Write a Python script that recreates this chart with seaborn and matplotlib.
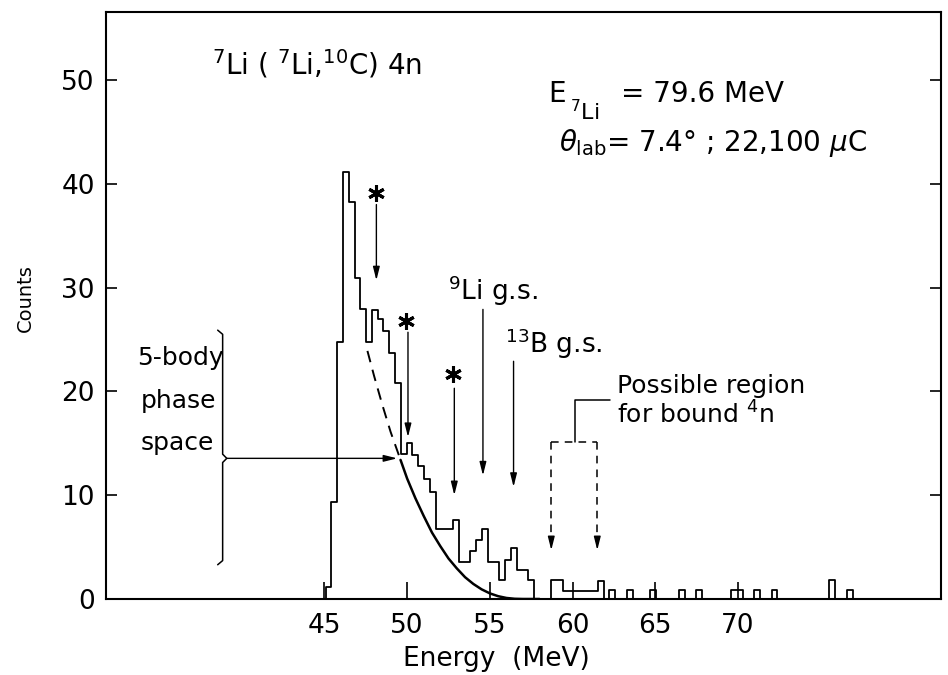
import numpy as np
import matplotlib
matplotlib.use("Agg")
import matplotlib.pyplot as plt
import seaborn as sns

# 7Li(7Li,10C) spectrum, channels of 0.35 MeV starting at 44.72 MeV
bin_start = 44.72
bin_width = 0.35
counts = [0.0, 1.2, 9.3, 24.8, 41.1, 38.2, 30.9, 27.9, 24.8, 27.8, 27.0,
          25.8, 23.7, 20.8, 14.0, 15.0, 13.9, 12.8, 11.6, 10.3, 6.7,
          6.7, 6.7, 7.6, 3.6, 3.6, 4.6, 5.7, 6.7, 3.6, 3.6,
          1.8, 3.8, 4.9, 2.8, 2.8, 1.8, 0.0, 0.0, 0.0, 1.8,
          1.8, 0.8, 0.8, 0.8, 0.8, 0.8, 0.8, 1.7, 0.0, 0.9,
          0.0, 0.0, 0.9, 0.0, 0.0, 0.0, 0.9, 0.0, 0.0, 0.0,
          0.0, 0.9, 0.0, 0.0, 0.9, 0.0, 0.0, 0.0, 0.0, 0.0,
          0.9, 0.9, 0.0, 0.0, 0.9, 0.0, 0.0, 0.9, 0.0, 0.0,
          0.0, 0.0, 0.0, 0.0, 0.0, 0.0, 0.0, 1.8, 0.0, 0.0,
          0.9, 0.0]

# 5-body phase space curve (dashed part, solid part)
ps_dash_energy = [47.6, 48.0, 48.5, 49.0, 49.6]
ps_dash_counts = [23.9, 21.5, 18.7, 16.1, 13.4]
ps_energy = [49.6, 50.0, 50.5, 51.0, 51.5, 52.0, 52.5, 53.0, 53.5, 54.0,
             54.5, 55.0, 55.5, 56.0, 56.5, 57.0, 58.0]
ps_counts = [13.4, 11.6, 9.7, 8.0, 6.4, 5.1, 3.9, 2.95, 2.1, 1.45,
             0.93, 0.54, 0.27, 0.1, 0.02, 0.0, 0.0]

x_ticks = [45, 50, 55, 60, 65, 70]
y_ticks = [0, 10, 20, 30, 40, 50]

sns.set_style("ticks")
plt.rcParams['font.family'] = ['DejaVu Sans']
plt.rcParams['mathtext.fontset'] = 'dejavusans'
for key in ['text.color', 'axes.labelcolor', 'xtick.color', 'ytick.color']:
    plt.rcParams[key] = 'black'

fig = plt.figure(figsize=(9.48, 6.75), dpi=100)
ax = fig.add_axes([0.1118, 0.1126, 0.8808, 0.8696])

edges = bin_start + bin_width * np.arange(len(counts) + 1)
step_counts = counts + [counts[-1]]
sns.lineplot(x=edges, y=step_counts, drawstyle="steps-post", estimator=None,
             color="black", linewidth=1.3, ax=ax)

sns.lineplot(x=ps_energy, y=ps_counts, color="black", linewidth=1.8, ax=ax)
sns.lineplot(x=ps_dash_energy, y=ps_dash_counts, color="black", linewidth=1.4,
             linestyle=(0, (6, 4)), ax=ax)

ax.set_xlim(31.8, 82.26)
ax.set_ylim(0, 56.55)
ax.set_xticks(x_ticks)
ax.set_yticks(y_ticks)
ax.tick_params(axis="x", direction="in", length=12, width=1.2, labelsize=19, pad=10)
ax.tick_params(axis="y", direction="in", length=8, width=1.2, labelsize=19, pad=8,
               right=True)
for s in ax.spines.values():
    s.set_linewidth(1.5)
    s.set_color("black")

ax.set_xlabel("Energy  (MeV)", fontsize=19)
ax.set_ylabel("Counts", fontsize=14)
ax.xaxis.set_label_coords(0.468, -0.08)
ax.yaxis.set_label_coords(-0.085, 0.513)


def down_arrow(x, y0, y1, dashed=False):
    if dashed:
        ax.plot([x, x], [y0, y1 + 1.2], color="black", lw=1.1, linestyle=(0, (5, 4)))
        y0 = y1 + 1.2
    ax.annotate("", xy=(x, y1), xytext=(x, y0),
                arrowprops=dict(arrowstyle="-|>,head_length=0.8,head_width=0.2",
                                color="black", lw=1.0, shrinkA=0, shrinkB=0,
                                mutation_scale=10))


# excited-state markers
for sx, sy, ax_x, ay0, ay1 in [(48.14, 39.1, 48.14, 38.0, 30.7),
                               (49.95, 26.8, 50.05, 25.7, 15.6),
                               (52.8, 21.7, 52.85, 20.3, 10.0)]:
    ax.plot([sx], [sy], marker=(6, 2, 0), color="black", markersize=12, mew=2.2)
    down_arrow(ax_x, ay0, ay1)

ax.text(52.49, 28.8, r"$^{9}$Li g.s.", fontsize=19, va="baseline")
down_arrow(54.58, 27.9, 11.9)
ax.text(55.93, 23.7, r"$^{13}$B g.s.", fontsize=19, va="baseline")
down_arrow(56.43, 22.9, 10.8)

# bound 4n region
ax.plot([60.16, 60.16, 62.27], [15.15, 19.2, 19.2], color="black", lw=1.1)
ax.plot([58.71, 61.49], [15.15, 15.15], color="black", lw=1.1, linestyle=(0, (5, 4)))
down_arrow(58.71, 15.15, 4.7, dashed=True)
down_arrow(61.49, 15.15, 4.7, dashed=True)
ax.text(62.67, 19.8, "Possible region", fontsize=18, va="baseline")
ax.text(62.67, 16.9, r"for bound $^{4}$n", fontsize=18, va="baseline")

# 5-body phase space brace
bx = 38.85
ax.plot([bx - 0.3, bx, bx, bx + 0.25, bx, bx, bx - 0.3],
        [25.9, 25.5, 13.95, 13.55, 13.15, 3.7, 3.3], color="black", lw=1.1)
ax.annotate("", xy=(49.4, 13.55), xytext=(bx + 0.25, 13.55),
            arrowprops=dict(arrowstyle="-|>,head_length=0.8,head_width=0.2",
                            color="black", lw=1.0, shrinkA=0, shrinkB=0,
                            mutation_scale=10))
ax.text(33.7, 22.5, "5-body", fontsize=18, va="baseline")
ax.text(33.9, 18.4, "phase", fontsize=18, va="baseline")
ax.text(33.9, 14.4, "space", fontsize=18, va="baseline")

# reaction and run conditions
ax.text(38.2, 50.5, r"$^{7}$Li ( $^{7}$Li,$^{10}$C) 4n", fontsize=20, va="baseline")
ax.text(58.5, 47.9, "E", fontsize=20, va="baseline")
ax.text(59.85, 46.1, r"$^{7}$Li", fontsize=16, va="baseline")
ax.text(62.9, 47.9, "= 79.6 MeV", fontsize=20, va="baseline")
ax.text(59.17, 43.2, r"$\theta_{\mathrm{lab}}$= 7.4° ; 22,100 $\mu$C", fontsize=20,
        va="baseline")

fig.savefig("out.png", dpi=100)
